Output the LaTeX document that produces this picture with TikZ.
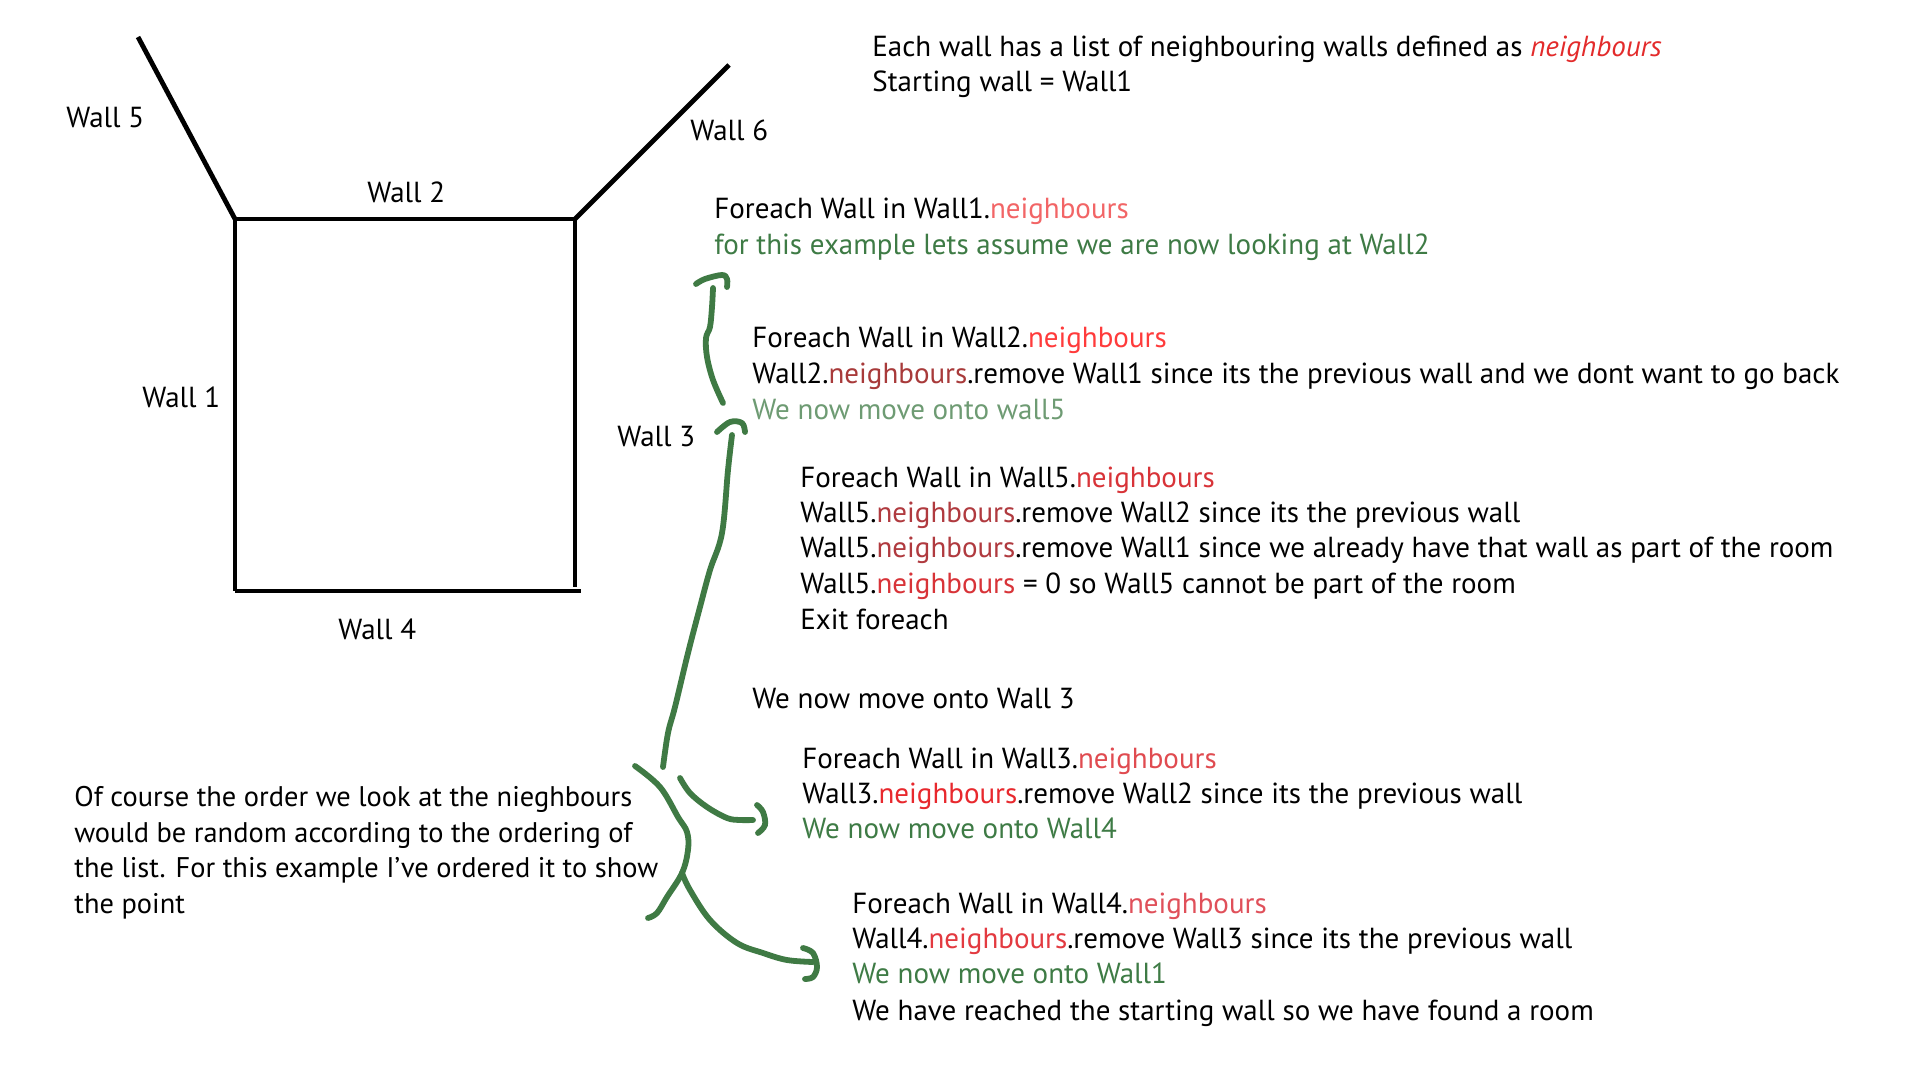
\documentclass[tikz,border=0pt]{standalone}
\usepackage{fontspec}
\setmainfont{PT Sans}
\definecolor{penc}{HTML}{3F7A44}
\definecolor{grn}{HTML}{3E7B45}
\definecolor{lgrn}{HTML}{6E9B73}
\definecolor{nbA}{HTML}{E32B2B}
\definecolor{nbB}{HTML}{F26566}
\definecolor{nbC}{HTML}{FF3B3B}
\definecolor{nbD}{HTML}{A83A3A}
\definecolor{nbE}{HTML}{D83338}
\definecolor{nbF}{HTML}{B03A3F}
\definecolor{nbG}{HTML}{E04B50}
\definecolor{nbH}{HTML}{E8282D}
\definecolor{nbI}{HTML}{E0505A}
\definecolor{nbJ}{HTML}{E33A40}
\begin{document}
\begin{tikzpicture}[x=0.5pt,y=-0.5pt,
  txt/.style={anchor=base west,inner sep=0pt,font=\fontsize{14.5pt}{17pt}\selectfont},
  note/.style={txt,font=\fontsize{14.2pt}{17pt}\selectfont},
  wall/.style={line width=2.4pt,black},
  pen/.style={line width=2.9pt,penc,line cap=round,line join=round}]
\useasboundingbox[fill=white] (0,0) rectangle (1920,1080);

% walls
\draw[wall] (138,37) -- (235,219);
\draw[wall] (235,219) -- (575,219);
\draw[wall] (575,219) -- (729,65);
\draw[wall] (235,219) -- (235,591);
\draw[wall] (575,219) -- (575,587);
\draw[wall] (235,591) -- (581,591);

% wall labels
\node[txt] (w5) at (66,128) {Wall 5};
\node[txt] (w2) at (367,203) {Wall 2};
\node[txt] (w6) at (690,141) {Wall 6};
\node[txt] (w1) at (142,407) {Wall 1};
\node[txt] (w3) at (617,446) {Wall 3};
\node[txt] (w4) at (338,639) {Wall 4};

% header
\node[txt] (h1) at (872,57) {Each wall has a list of neighbouring walls defined as \textcolor{nbA}{\itshape neighbours}};
\node[txt] (h2) at (872,92) {Starting wall = Wall1};

% Wall1 block
\node[txt] (a1) at (714,219) {Foreach Wall in Wall1.\textcolor{nbB}{neighbours}};
\node[txt,text=grn] (a2) at (714,255) {for this example lets assume we are now looking at Wall2};

% Wall2 block
\node[txt] (b1) at (752,348) {Foreach Wall in Wall2.\textcolor{nbC}{neighbours}};
\node[txt] (b2) at (752,383) {Wall2.\textcolor{nbD}{neighbours}.remove Wall1 since its the previous wall and we dont want to go back};
\node[txt,text=lgrn] (b3) at (752,419) {We now move onto wall5};

% Wall5 block
\node[txt] (c1) at (800,487) {Foreach Wall in Wall5.\textcolor{nbE}{neighbours}};
\node[txt] (c2) at (800,522) {Wall5.\textcolor{nbF}{neighbours}.remove Wall2 since its the previous wall};
\node[txt] (c3) at (800,557) {Wall5.\textcolor{nbF}{neighbours}.remove Wall1 since we already have that wall as part of the room};
\node[txt] (c4) at (800,593) {Wall5.\textcolor{nbE}{neighbours} = 0 so Wall5 cannot be part of the room};
\node[txt] (c5) at (800,629) {Exit foreach};

\node[txt] (m3) at (752,708) {We now move onto Wall 3};

% Wall3 block
\node[txt] (d1) at (802,768) {Foreach Wall in Wall3.\textcolor{nbG}{neighbours}};
\node[txt] (d2) at (802,803) {Wall3.\textcolor{nbH}{neighbours}.remove Wall2 since its the previous wall};
\node[txt,text=grn] (d3) at (802,838) {We now move onto Wall4};

% Wall4 block
\node[txt] (e1) at (852,913) {Foreach Wall in Wall4.\textcolor{nbI}{neighbours}};
\node[txt] (e2) at (852,948) {Wall4.\textcolor{nbJ}{neighbours}.remove Wall3 since its the previous wall};
\node[txt,text=grn] (e3) at (852,983) {We now move onto Wall1};
\node[txt] (e4) at (852,1020) {We have reached the starting wall so we have found a room};

% note
\node[note] (p1) at (74,806) {Of course the order we look at the nieghbours};
\node[note] (p2) at (74,842) {would be random according to the ordering of};
\node[note] (p3) at (74,877) {the list. For this example I’ve ordered it to show};
\node[note] (p4) at (74,913) {the point};

% green hand-drawn arrows
\draw[pen] plot[smooth,tension=0.6] coordinates {(723,403) (713,380) (707,357) (706,338) (710,327) (712,307) (713,288)};
\draw[pen] plot[smooth,tension=0.6] coordinates {(696,284) (705,279) (722,275) (727,279) (727,287)};

\draw[pen] plot[smooth,tension=0.6] coordinates {(663,767) (668,733) (675,707) (688,653) (700,607) (710,570) (722,533) (728,470) (732,435)};
\draw[pen] plot[smooth,tension=0.6] coordinates {(717,432) (730,422) (742,423) (745,432)};

\draw[pen] plot[smooth,tension=0.6] coordinates {(635,766) (660,787) (678,817) (687,832) (688,850) (682,873) (667,897) (657,913) (648,918)};

\draw[pen] plot[smooth,tension=0.6] coordinates {(680,778) (690,793) (707,807) (727,818) (740,820) (753,820)};
\draw[pen] plot[smooth,tension=0.6] coordinates {(757,805) (763,812) (765,825) (758,833)};

\draw[pen] plot[smooth,tension=0.6] coordinates {(682,873) (690,890) (710,920) (737,943) (763,953) (787,960) (813,962)};
\draw[pen] plot[smooth,tension=0.6] coordinates {(803,948) (813,953) (817,967) (813,977) (805,979)};
\end{tikzpicture}
\end{document}
